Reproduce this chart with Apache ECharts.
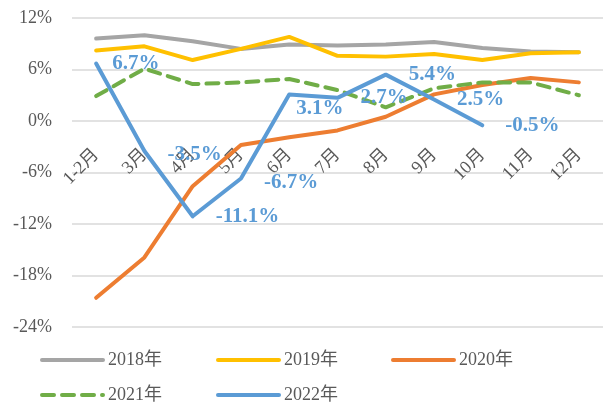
<!DOCTYPE html>
<html>
<head>
<meta charset="utf-8">
<script src="https://cdn.jsdelivr.net/npm/echarts@6/dist/echarts.min.js"></script>
<style>
  html,body{margin:0;padding:0;background:#fff;}
  #chart{width:603px;height:405px;}
</style>
</head>
<body>
<div id="chart"></div>
<script>
  // 月份
  var months = ['1-2月','3月','4月','5月','6月','7月','8月','9月','10月','11月','12月'];
  var s2018 = [9.6, 10.0, 9.3, 8.4, 8.9, 8.8, 8.9, 9.2, 8.5, 8.1, 8.0];
  var s2019 = [8.2, 8.7, 7.1, 8.4, 9.8, 7.6, 7.5, 7.8, 7.1, 7.9, 8.0];
  var s2020 = [-20.6, -15.9, -7.6, -2.8, -1.9, -1.1, 0.5, 3.1, 4.2, 5.0, 4.5];
  var s2021 = [2.9, 6.1, 4.3, 4.5, 4.9, 3.6, 1.6, 3.8, 4.5, 4.5, 3.0];
  var s2022 = [6.7, -3.5, -11.1, -6.7, 3.1, 2.7, 5.4, 2.5, -0.5];
  var yTicks = [-24, -18, -12, -6, 0, 6, 12];

  var serif = '"Liberation Serif", "Noto Sans CJK SC", serif';
  var gray = '#595959';

  var myChart = echarts.init(document.getElementById('chart'));

  function mkLegend(name, left, top){
    return {
      data:[name],
      left:left,
      top:top,
      itemWidth:61,
      itemHeight:14,
      itemGap:0,
      padding:0,
      itemStyle:{opacity:0},
      lineStyle:{width:4, cap:'round'},
      textStyle:{fontFamily:serif, fontSize:18, color:gray, padding:[0,0,0,0]}
    }
  }

  function line(name, data, color, dashed){
    return {
      name:name,
      type:'line',
      data:data,
      symbol:'circle',
      symbolSize:0,
      smooth:false,
      lineStyle:{
        color:color,
        width:4,
        type: dashed ? [12, 8] : 'solid',
        cap:'round',
        join:'round'
      },
      itemStyle:{color:color},
      emphasis:{disabled:true}
    }
  }

  var blue = line('2022年', s2022, '#5B9BD5');
  blue.label = {
    show:true,
    position:'right',
    distance:23,
    formatter:function(p){ return p.value.toFixed(1) + '%'; },
    color:'#5B9BD5',
    fontFamily:serif,
    fontWeight:'bold',
    fontSize:21
  };
  blue.data = s2022.map(function(v, i){
    if(i === 4) return {value:v, label:{offset:[-16, 14]}};
    if(i === 0) return {value:v, label:{offset:[-7, 0]}};
    if(i === 1 || i === 3) return {value:v, label:{offset:[0, 4]}};
    return v;
  });

  myChart.setOption({
    animation:false,
    color:['#A5A5A5','#FFC000','#ED7D31','#70AD47','#5B9BD5'],
    legend:[
      mkLegend('2018年', 40, 351),
      mkLegend('2019年', 216, 351),
      mkLegend('2020年', 391, 351),
      mkLegend('2021年', 40, 386),
      mkLegend('2022年', 216, 386)
    ],
    grid:{left:72, right:0, top:18, bottom:78, containLabel:false},
    xAxis:{
      type:'category',
      data:months,
      boundaryGap:true,
      // 标签放在0%线下方
      offset:-194,
      axisLine:{show:false},
      axisTick:{show:false},
      axisLabel:{
        rotate:45,
        margin:19,
        fontFamily:serif,
        fontSize:18,
        color:gray
      },
      splitLine:{show:false}
    },
    yAxis:{
      type:'value',
      min:yTicks[0],
      max:yTicks[yTicks.length-1],
      interval:6,
      axisLine:{show:false},
      axisTick:{show:false},
      axisLabel:{
        formatter:'{value}%',
        margin:20,
        fontFamily:serif,
        fontSize:18,
        color:gray
      },
      splitLine:{lineStyle:{color:'#D9D9D9', width:1.5}}
    },
    series:[
      line('2018年', s2018, '#A5A5A5'),
      line('2019年', s2019, '#FFC000'),
      line('2020年', s2020, '#ED7D31'),
      line('2021年', s2021, '#70AD47', true),
      blue
    ]
  });
</script>
</body>
</html>
